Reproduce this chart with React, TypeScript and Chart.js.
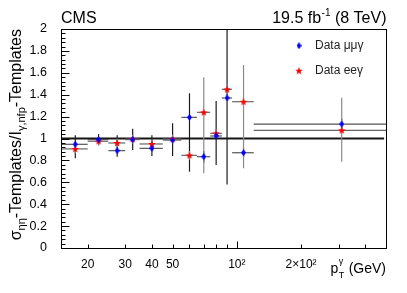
import React, { useEffect, useRef } from "react";
import { Chart, registerables } from "chart.js";

Chart.register(...registerables);

// ---- data ----
const ptLow = [15, 20, 25, 30, 35, 45, 55, 65, 75, 85, 95, 120];
const ptHigh = [20, 25, 30, 35, 45, 55, 65, 75, 85, 95, 120, 500];
const ptCenter = [17.5, 22.5, 27.5, 32.5, 40, 50, 60, 70, 80, 90, 107.5, 310];

const mumuRatio = [0.947, 0.99, 0.889, 0.99, 0.91, 0.986, 1.193, 0.834, 1.023, 1.37, 0.87, 1.132];
const mumuErrUp = [0.083, 0.05, 0.14, 0.1, 0.12, 0.153, 0.22, 0.05, 0.32, 0.8, 0.04, 0.05];
const mumuErrDown = [0.127, 0.05, 0.055, 0.095, 0.07, 0.146, 0.496, 0.05, 0.265, 0.79, 0.04, 0.05];

const eeRatio = [0.905, 0.975, 0.959, 0.995, 0.95, 0.995, 0.846, 1.239, 1.047, 1.449, 1.336, 1.075];
const eeErrUp = [0.04, 0.04, 0.04, 0.04, 0.04, 0.04, 0.04, 0.32, 0.04, 0.05, 0.335, 0.298];
const eeErrDown = [0.04, 0.04, 0.04, 0.04, 0.04, 0.04, 0.04, 0.557, 0.04, 0.05, 0.608, 0.287];

const seriesLabels = ["Data μμγ", "Data eeγ"];

const yTickValues = [0, 0.2, 0.4, 0.6, 0.8, 1, 1.2, 1.4, 1.6, 1.8, 2];
const yTickLabels = ["0", "0.2", "0.4", "0.6", "0.8", "1", "1.2", "1.4", "1.6", "1.8", "2"];
const xTickValues = [20, 30, 40, 50, 100, 200];
const xTickLabels = ["20", "30", "40", "50", "10²", "2×10²"];
const xMinorTicks = [20, 30, 40, 50, 60, 70, 80, 90, 200, 300, 400];
const xMajorTicks = [100];

const refLineX = [15, 490];
const refLineY = 1;

const FONT = "'Liberation Sans', Arial, Helvetica, sans-serif";

function makeDiamond(color: string, w: number, h: number) {
  const c = document.createElement("canvas");
  c.width = w;
  c.height = h;
  const g = c.getContext("2d")!;
  g.fillStyle = color;
  g.beginPath();
  g.moveTo(w / 2, 0);
  g.lineTo(w, h / 2);
  g.lineTo(w / 2, h);
  g.lineTo(0, h / 2);
  g.closePath();
  g.fill();
  return c;
}

function makeStar(color: string, size: number) {
  const c = document.createElement("canvas");
  c.width = size;
  c.height = size;
  const g = c.getContext("2d")!;
  const cx = size / 2;
  const cy = size / 2 + 0.3;
  const ro = size / 2;
  const ri = ro * 0.42;
  g.fillStyle = color;
  g.beginPath();
  for (let k = 0; k < 10; k++) {
    const r = k % 2 === 0 ? ro : ri;
    const a = -Math.PI / 2 + (k * Math.PI) / 5;
    const px = cx + r * Math.cos(a);
    const py = cy + r * Math.sin(a);
    if (k === 0) g.moveTo(px, py);
    else g.lineTo(px, py);
  }
  g.closePath();
  g.fill();
  return c;
}

export default function App() {
  const ref = useRef<HTMLCanvasElement | null>(null);

  useEffect(() => {
    const canvas = ref.current;
    if (!canvas) return;
    const diamond = makeDiamond("#0000ff", 5, 7);
    const star = makeStar("#ff0000", 8);

    const errPlugin = {
      id: "rootStyle",
      beforeDatasetsDraw(chart: any) {
        const { ctx, chartArea } = chart;
        const xs = chart.scales.x;
        const ys = chart.scales.y;
        // reference line at 1
        ctx.save();
        ctx.strokeStyle = "#151515";
        ctx.lineWidth = 2.2;
        ctx.beginPath();
        ctx.moveTo(xs.getPixelForValue(refLineX[0]), ys.getPixelForValue(refLineY));
        ctx.lineTo(xs.getPixelForValue(refLineX[1]), ys.getPixelForValue(refLineY));
        ctx.stroke();
        ctx.restore();

        ctx.save();
        ctx.beginPath();
        ctx.rect(chartArea.left, chartArea.top, chartArea.right - chartArea.left, chartArea.bottom - chartArea.top);
        ctx.clip();
        const drawSeries = (vals: number[], up: number[], dn: number[], hColor: string, vColor: string) => {
          for (let i = 0; i < vals.length; i++) {
            const y = ys.getPixelForValue(vals[i]);
            const x = xs.getPixelForValue(ptCenter[i]);
            ctx.lineWidth = 1.2;
            ctx.strokeStyle = hColor;
            ctx.beginPath();
            ctx.moveTo(xs.getPixelForValue(ptLow[i]), y);
            ctx.lineTo(xs.getPixelForValue(ptHigh[i]), y);
            ctx.stroke();
            ctx.strokeStyle = vColor;
            ctx.beginPath();
            ctx.moveTo(x, ys.getPixelForValue(vals[i] + up[i]));
            ctx.lineTo(x, ys.getPixelForValue(vals[i] - dn[i]));
            ctx.stroke();
          }
        };
        drawSeries(mumuRatio, mumuErrUp, mumuErrDown, "#555", "#1c1c1c");
        drawSeries(eeRatio, eeErrUp, eeErrDown, "#666", "#8a8a8a");
        ctx.restore();
      },
      afterDraw(chart: any) {
        const { ctx, chartArea } = chart;
        const xs = chart.scales.x;
        const ys = chart.scales.y;
        const L = Math.round(chartArea.left) + 0.5;
        const R = Math.round(chartArea.right) + 0.5;
        const T = Math.round(chartArea.top) + 0.5;
        const B = Math.round(chartArea.bottom) + 0.5;
        ctx.save();
        ctx.strokeStyle = "#000";
        ctx.lineWidth = 1;
        ctx.strokeRect(L, T, R - L, B - T);
        // y ticks
        ctx.beginPath();
        for (let k = 0; k <= 50; k++) {
          const v = k * 0.04;
          const y = Math.round(ys.getPixelForValue(v)) + 0.5;
          const len = k % 5 === 0 ? 8 : 4;
          ctx.moveTo(L, y);
          ctx.lineTo(L + len, y);
        }
        // x ticks
        for (const v of xMinorTicks) {
          const x = Math.round(xs.getPixelForValue(v)) + 0.5;
          ctx.moveTo(x, B);
          ctx.lineTo(x, B - 4);
        }
        for (const v of xMajorTicks) {
          const x = Math.round(xs.getPixelForValue(v)) + 0.5;
          ctx.moveTo(x, B);
          ctx.lineTo(x, B - 7);
        }
        ctx.stroke();

        // top texts
        ctx.fillStyle = "#000";
        ctx.textBaseline = "alphabetic";
        ctx.font = `16px ${FONT}`;
        ctx.textAlign = "left";
        ctx.fillText("CMS", chartArea.left, 22.5);
        // right lumi text
        const partA = "19.5 fb";
        const partSup = "-1";
        const partB = " (8 TeV)";
        ctx.font = `16px ${FONT}`;
        const wA = ctx.measureText(partA).width;
        const wB = ctx.measureText(partB).width;
        ctx.font = `10px ${FONT}`;
        const wS = ctx.measureText(partSup).width;
        let xr = chartArea.right - (wA + wS + wB);
        ctx.font = `16px ${FONT}`;
        ctx.fillText(partA, xr, 22.5);
        xr += wA;
        ctx.font = `10px ${FONT}`;
        ctx.fillText(partSup, xr + 0.5, 16);
        xr += wS + 0.5;
        ctx.font = `16px ${FONT}`;
        ctx.fillText(partB, xr, 22.5);

        // legend
        const lx = 299;
        const ly = [45.7, 70.7];
        const imgs = [diamond, star];
        for (let i = 0; i < 2; i++) {
          const im = imgs[i];
          ctx.drawImage(im, lx - im.width / 2, ly[i] - im.height / 2);
          ctx.font = `12px ${FONT}`;
          ctx.fillStyle = "#222";
          ctx.textBaseline = "middle";
          ctx.fillText(seriesLabels[i], 315, ly[i]);
        }

        // x title: p_T^γ (GeV)
        ctx.fillStyle = "#000";
        ctx.textBaseline = "alphabetic";
        ctx.font = `14px ${FONT}`;
        const gev = " (GeV)";
        const wG = ctx.measureText(gev).width;
        const wp = ctx.measureText("p").width;
        ctx.font = `9px ${FONT}`;
        const wT = Math.max(ctx.measureText("T").width, ctx.measureText("γ").width);
        let tx = chartArea.right - wG - wT - wp - 1;
        const base = 272.5;
        ctx.font = `14px ${FONT}`;
        ctx.fillText("p", tx, base);
        tx += wp + 0.5;
        ctx.font = `9px ${FONT}`;
        ctx.fillText("T", tx, base + 5);
        ctx.fillText("γ", tx, base - 9);
        tx += wT + 0.5;
        ctx.font = `14px ${FONT}`;
        ctx.fillText(gev, tx, base);

        // y title
        const pieces = [
          { t: "σ", sub: false },
          { t: "ηη", sub: true },
          { t: "-Templates/I", sub: false },
          { t: "γ,nfp", sub: true },
          { t: "-Templates", sub: false },
        ];
        const mainF = `16px ${FONT}`;
        const subF = `11px ${FONT}`;
        let total = 0;
        const widths: number[] = [];
        for (const p of pieces) {
          ctx.font = p.sub ? subF : mainF;
          const w = ctx.measureText(p.t).width;
          widths.push(w);
          total += w;
        }
        ctx.save();
        ctx.translate(21, chartArea.top);
        ctx.rotate(-Math.PI / 2);
        let px = -total;
        pieces.forEach((p, i) => {
          ctx.font = p.sub ? subF : mainF;
          ctx.fillText(p.t, px, p.sub ? 4 : 0);
          px += widths[i];
        });
        ctx.restore();
        ctx.restore();
      },
    };

    const chart = new Chart(canvas, {
      type: "scatter",
      data: {
        datasets: [
          {
            label: seriesLabels[0],
            data: ptCenter.map((x, i) => ({ x, y: mumuRatio[i] })),
            pointStyle: diamond as any,
            pointRadius: 4,
            showLine: false,
          },
          {
            label: seriesLabels[1],
            data: ptCenter.map((x, i) => ({ x, y: eeRatio[i] })),
            pointStyle: star as any,
            pointRadius: 4,
            showLine: false,
          },
        ],
      },
      options: {
        animation: false,
        responsive: false,
        devicePixelRatio: 1,
        layout: { padding: { top: 29, right: 21, left: 0, bottom: 0 } },
        plugins: { legend: { display: false }, tooltip: { enabled: false } },
        scales: {
          x: {
            type: "logarithmic",
            min: 15,
            max: 500,
            grid: { display: false },
            border: { display: false },
            afterBuildTicks: (s: any) => {
              s.ticks = xTickValues.map((v) => ({ value: v }));
            },
            afterFit: (s: any) => {
              s.height = 45;
            },
            ticks: {
              autoSkip: false,
              maxRotation: 0,
              color: "#000",
              padding: 1,
              font: { family: FONT, size: 12 },
              callback: (_v: any, i: number) => xTickLabels[i],
            },
          },
          y: {
            min: 0,
            max: 2,
            grid: { display: false },
            border: { display: false },
            afterBuildTicks: (s: any) => {
              s.ticks = yTickValues.map((v) => ({ value: v }));
            },
            afterFit: (s: any) => {
              s.width = 61;
            },
            ticks: {
              color: "#000",
              padding: 6,
              font: { family: FONT, size: 12.5 },
              callback: (_v: any, i: number) => yTickLabels[i],
            },
          },
        },
      },
      plugins: [errPlugin],
    });
    return () => chart.destroy();
  }, []);

  return (
    <div style={{ position: "fixed", left: 0, top: 0, width: 407, height: 293, background: "#fff" }}>
      <canvas ref={ref} width={407} height={293} style={{ width: 407, height: 293, display: "block" }} />
    </div>
  );
}
